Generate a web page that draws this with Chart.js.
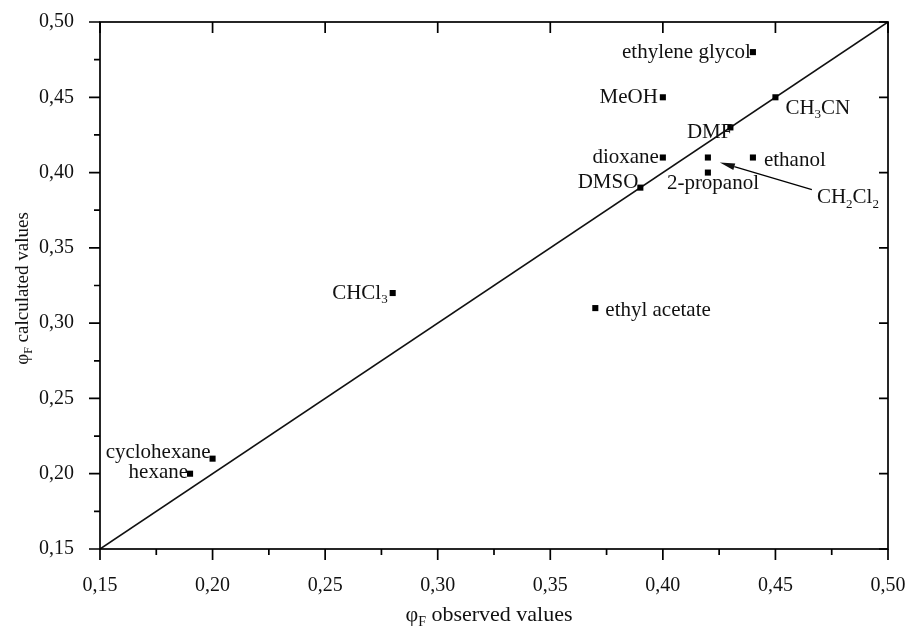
<!DOCTYPE html>
<html>
<head>
<meta charset="utf-8">
<script src="https://cdn.jsdelivr.net/npm/chart.js@4.4.1/dist/chart.umd.min.js"></script>
<style>
  html, body { margin: 0; padding: 0; background: #fff; }
  canvas { display: block; }
</style>
</head>
<body>
<canvas id="c" width="905" height="630"></canvas>
<script>
// Solvents and their fluorescence quantum yields (observed vs calculated)
const solvents   = ['ethylene glycol', 'MeOH', 'CH_3CN', 'DMF', 'dioxane', 'CH_2Cl_2', '2-propanol',
                    'ethanol', 'DMSO', 'CHCl_3', 'ethyl acetate', 'cyclohexane', 'hexane'];
const observed   = [0.44, 0.40, 0.45, 0.43, 0.40, 0.42, 0.42, 0.44, 0.39, 0.28, 0.37, 0.20, 0.19];
const calculated = [0.48, 0.45, 0.45, 0.43, 0.41, 0.41, 0.40, 0.41, 0.39, 0.32, 0.31, 0.21, 0.20];

// y = x reference line
const identityX = [0.15, 0.50];
const identityY = [0.15, 0.50];

// axis ticks (shared by both axes)
const tickValues = [0.15, 0.20, 0.25, 0.30, 0.35, 0.40, 0.45, 0.50];

const xTitle = 'φ_F observed values';
const yTitle = 'φ_F calculated values';

// where each solvent name sits relative to its marker (pixels)
const labelPlacement = [
  { align: 'right', dx: -2,  dy: 0 },   // ethylene glycol
  { align: 'right', dx: -5,  dy: 0 },   // MeOH
  { align: 'left',  dx: 10,  dy: 11 },  // CH3CN
  { align: 'right', dx: 2,   dy: 5 },   // DMF
  { align: 'right', dx: -4,  dy: 0 },   // dioxane
  { align: 'left',  dx: 109, dy: 40, arrow: { from: [104, 32], to: [12, 5] } }, // CH2Cl2
  { align: 'left',  dx: -41, dy: 11 },  // 2-propanol
  { align: 'left',  dx: 11,  dy: 3 },   // ethanol
  { align: 'right', dx: -2,  dy: -5 },  // DMSO
  { align: 'right', dx: -5,  dy: 0 },   // CHCl3
  { align: 'left',  dx: 10,  dy: 2 },   // ethyl acetate
  { align: 'right', dx: -2,  dy: -6 },  // cyclohexane
  { align: 'right', dx: -2,  dy: -1 }   // hexane
];

const FONT = '"Liberation Serif", "Times New Roman", serif';
const TICK_SIZE = 20;
const LABEL_SIZE = 21;
const X_TITLE_SIZE = 22;
const Y_TITLE_SIZE = 19;

const fmt = v => v.toFixed(2).replace('.', ',');

// split "CH_2Cl_2" into normal / subscript runs
function parseRich(s) {
  const out = [];
  const re = /_(.)/g;
  let last = 0, m;
  while ((m = re.exec(s))) {
    if (m.index > last) out.push({ t: s.slice(last, m.index) });
    out.push({ t: m[1], sub: true });
    last = re.lastIndex;
  }
  if (last < s.length) out.push({ t: s.slice(last) });
  return out;
}

function drawRich(ctx, s, x, y, align, size) {
  const runs = parseRich(s);
  const main = `${size}px ${FONT}`;
  const sub = `${Math.round(size * 0.62)}px ${FONT}`;
  let w = 0;
  runs.forEach(r => { ctx.font = r.sub ? sub : main; r.w = ctx.measureText(r.t).width; w += r.w; });
  let cx = align === 'right' ? x - w : align === 'center' ? x - w / 2 : x;
  ctx.textAlign = 'left';
  ctx.textBaseline = 'middle';
  runs.forEach(r => {
    ctx.font = r.sub ? sub : main;
    ctx.fillText(r.t, cx, r.sub ? y + size * 0.32 : y);
    cx += r.w;
  });
}

const decorations = {
  id: 'decorations',
  afterDraw(chart) {
    const { ctx, chartArea: a, scales: { x, y } } = chart;
    ctx.save();
    ctx.strokeStyle = '#000';
    ctx.fillStyle = '#000';
    ctx.lineWidth = 1.7;

    // frame
    ctx.strokeRect(a.left, a.top, a.right - a.left, a.bottom - a.top);

    // major ticks: outward on bottom/left, inward on top/right; minor ticks between
    ctx.beginPath();
    tickValues.forEach((v, i) => {
      const px = x.getPixelForValue(v), py = y.getPixelForValue(v);
      ctx.moveTo(px, a.bottom); ctx.lineTo(px, a.bottom + 11);
      ctx.moveTo(a.left, py);   ctx.lineTo(a.left - 11, py);
      ctx.moveTo(px, a.top);    ctx.lineTo(px, a.top + 11);
      ctx.moveTo(a.right, py);  ctx.lineTo(a.right - 9, py);
      if (i < tickValues.length - 1) {
        const mid = (v + tickValues[i + 1]) / 2;
        const mx = x.getPixelForValue(mid), my = y.getPixelForValue(mid);
        ctx.moveTo(mx, a.bottom); ctx.lineTo(mx, a.bottom + 6);
        ctx.moveTo(a.left, my);   ctx.lineTo(a.left - 6, my);
      }
    });
    ctx.stroke();

    // solvent names
    ctx.fillStyle = '#111';
    solvents.forEach((name, i) => {
      const p = labelPlacement[i];
      const px = x.getPixelForValue(observed[i]);
      const py = y.getPixelForValue(calculated[i]);
      drawRich(ctx, name, px + p.dx, py + p.dy, p.align, LABEL_SIZE);
      if (p.arrow) {
        const x0 = px + p.arrow.from[0], y0 = py + p.arrow.from[1];
        const x1 = px + p.arrow.to[0],   y1 = py + p.arrow.to[1];
        const ang = Math.atan2(y1 - y0, x1 - x0);
        const len = 15, half = 3.5;
        const bx = x1 - len * Math.cos(ang), by = y1 - len * Math.sin(ang);
        ctx.lineWidth = 1.3;
        ctx.beginPath();
        ctx.moveTo(x0, y0); ctx.lineTo(bx, by);
        ctx.stroke();
        ctx.beginPath();
        ctx.moveTo(x1, y1);
        ctx.lineTo(bx + half * Math.sin(ang), by - half * Math.cos(ang));
        ctx.lineTo(bx - half * Math.sin(ang), by + half * Math.cos(ang));
        ctx.closePath();
        ctx.fill();
      }
    });

    // axis titles
    drawRich(ctx, xTitle, (a.left + a.right) / 2 - 5, a.bottom + 66, 'center', X_TITLE_SIZE);
    ctx.translate(23, (a.top + a.bottom) / 2 + 3);
    ctx.rotate(-Math.PI / 2);
    drawRich(ctx, yTitle, 0, 0, 'center', Y_TITLE_SIZE);
    ctx.restore();
  }
};

const axisCommon = {
  type: 'linear',
  min: 0.15,
  max: 0.50,
  grid: { display: false },
  border: { display: false },
  afterBuildTicks: s => { s.ticks = tickValues.map(v => ({ value: v })); },
  ticks: {
    color: '#111',
    font: { family: FONT, size: TICK_SIZE },
    callback: v => fmt(v)
  }
};

new Chart(document.getElementById('c'), {
  type: 'scatter',
  data: {
    datasets: [
      {
        label: 'y = x',
        data: identityX.map((v, i) => ({ x: v, y: identityY[i] })),
        showLine: true,
        borderColor: '#111',
        borderWidth: 1.6,
        pointRadius: 0,
        order: 2
      },
      {
        label: 'solvents',
        data: observed.map((v, i) => ({ x: v, y: calculated[i] })),
        pointStyle: 'rect',
        pointRadius: 4.3,
        borderWidth: 0,
        backgroundColor: '#000',
        order: 1
      }
    ]
  },
  options: {
    responsive: false,
    animation: false,
    devicePixelRatio: 1,
    layout: { padding: { top: 22, right: 17, left: 0, bottom: 0 } },
    plugins: { legend: { display: false }, tooltip: { enabled: false } },
    scales: {
      x: Object.assign({}, axisCommon, {
        afterFit: s => { s.height = 81; s.paddingLeft = 0; s.paddingRight = 0; },
        ticks: Object.assign({}, axisCommon.ticks, { padding: 17, maxRotation: 0 })
      }),
      y: Object.assign({}, axisCommon, {
        afterFit: s => { s.width = 100; s.paddingTop = 0; s.paddingBottom = 0; },
        ticks: Object.assign({}, axisCommon.ticks, { padding: 18 })
      })
    }
  },
  plugins: [decorations]
});
</script>
</body>
</html>
